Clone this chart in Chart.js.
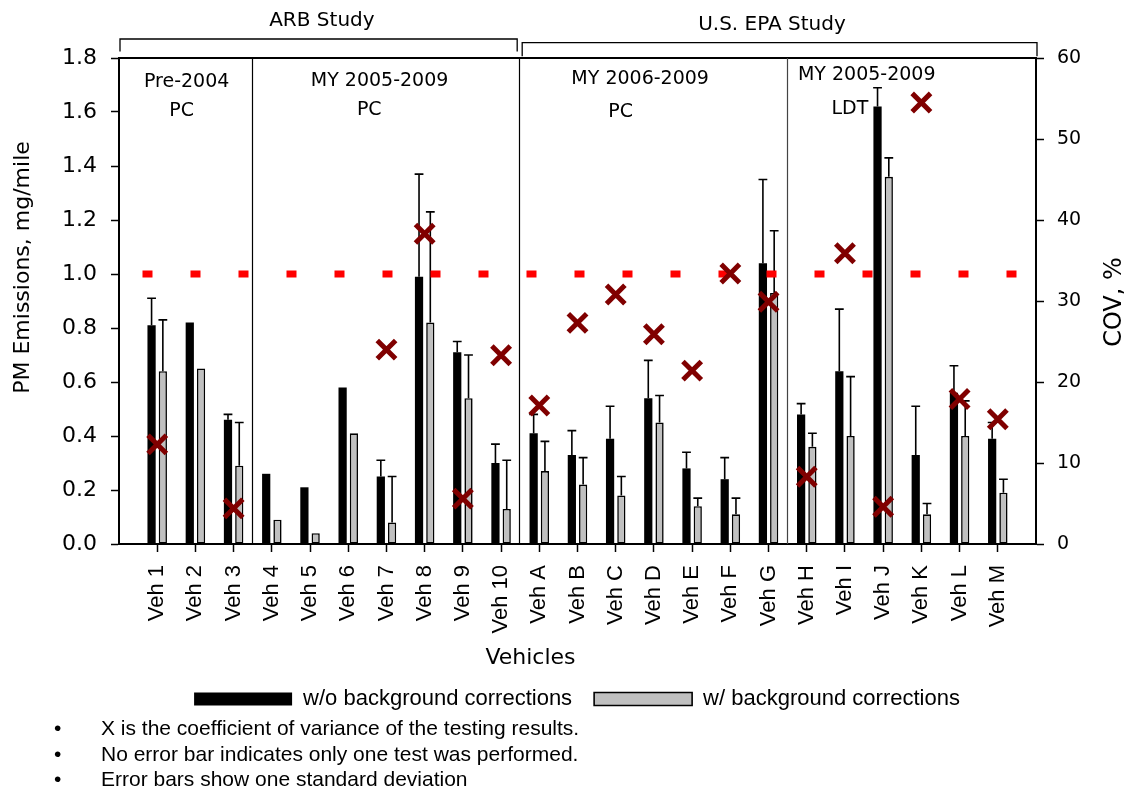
<!DOCTYPE html>
<html>
<head>
<meta charset="utf-8">
<script src="https://cdn.jsdelivr.net/npm/chart.js@4.4.1/dist/chart.umd.min.js"></script>
<style>
  html, body { margin: 0; padding: 0; background: #fff; }
  canvas { display: block; }
</style>
</head>
<body>
<canvas id="pmChart" width="1129" height="791"></canvas>
<script>
// ---- data ----
const vehicles = ['Veh 1', 'Veh 2', 'Veh 3', 'Veh 4', 'Veh 5', 'Veh 6', 'Veh 7', 'Veh 8', 'Veh 9', 'Veh 10',
                  'Veh A', 'Veh B', 'Veh C', 'Veh D', 'Veh E', 'Veh F', 'Veh G', 'Veh H', 'Veh I', 'Veh J',
                  'Veh K', 'Veh L', 'Veh M'];

// PM emissions (mg/mile) without background corrections, and one standard deviation
const pmWithout = [0.81, 0.82, 0.46, 0.26, 0.21, 0.58, 0.25, 0.99, 0.71, 0.30,
                   0.41, 0.33, 0.39, 0.54, 0.28, 0.24, 1.04, 0.48, 0.64, 1.62, 0.33, 0.56, 0.39];
const sdWithout = [0.10, null, 0.02, null, null, null, 0.06, 0.38, 0.04, 0.07,
                   0.07, 0.09, 0.12, 0.14, 0.06, 0.08, 0.31, 0.04, 0.23, 0.07, 0.18, 0.10, 0.06];

// PM emissions (mg/mile) with background corrections, and one standard deviation
const pmWith = [0.64, 0.65, 0.29, 0.09, 0.04, 0.41, 0.08, 0.82, 0.54, 0.13,
                0.27, 0.22, 0.18, 0.45, 0.14, 0.11, 0.93, 0.36, 0.40, 1.36, 0.11, 0.40, 0.19];
const sdWith = [0.19, null, 0.16, null, null, null, 0.17, 0.41, 0.16, 0.18,
                0.11, 0.10, 0.07, 0.10, 0.03, 0.06, 0.23, 0.05, 0.22, 0.07, 0.04, 0.13, 0.05];

// coefficient of variance of the repeated tests, %
const covPercent = [12.3, null, 4.4, null, null, null, 24.0, 38.3, 5.6, 23.3,
                    17.1, 27.3, 30.8, 25.9, 21.4, 33.4, 29.9, 8.3, 35.9, 4.6, 54.5, 17.9, 15.4];

// 1 mg/mile reference level
const pmReference = 1.0;

// vehicle groups: boundaries between groups and their titles
const groupBreaks = [2.5, 9.5, 16.5];
const groupTitles = [['Pre-2004', 'PC'], ['MY 2005-2009', 'PC'], ['MY 2006-2009', 'PC'], ['MY 2005-2009', 'LDT']];
const studies = [
  { name: 'ARB Study', from: -1, to: 9.5 },
  { name: 'U.S. EPA Study', from: 9.5, to: 23 }
];

const legendLabels = ['w/o background corrections', 'w/ background corrections'];
const notes = [
  'X is the coefficient of variance of the testing results.',
  'No error bar indicates only one test was performed.',
  'Error bars show one standard deviation'
];

// ---- layout / style ----
const SANS = "'DejaVu Sans', sans-serif";
const ARIAL = "'Liberation Sans', Arial, sans-serif";
const CHART_LEFT = 119, CHART_RIGHT = 1036, CHART_TOP = 58;
const PAD_LEFT = 25;

// text placement of the group titles: [category position, y pixel]
const groupTitleSpots = [
  [[0.77, 82.5], [0.64, 111.5]],
  [[5.82, 81.5], [5.55, 109.7]],
  [[12.64, 78.8], [12.13, 112]],
  [[18.57, 75.5], [18.13, 108.8]]
];
// study brackets: line y, drop of the end ticks, end insets (px), label centre (category) and y
const studyBrackets = [
  { y: 39, drop: 12.5, inset: [1, -3], labelX: 4.31, labelY: 21 },
  { y: 42.7, drop: 13.5, inset: [2, 1], labelX: 16.09, labelY: 25 }
];
const refLineSpan = [-0.385, 23.1];

const xy = (vals) => vals.map((v, i) => ({ x: i, y: v }));

// one-sided error bars on top of each bar
const errorBars = {
  id: 'errorBars',
  afterDatasetDraw(chart, args) {
    if (args.index !== 0) return; // dataset 0 is the last bar set painted
    const { ctx } = chart;
    const yScale = chart.scales.y;
    ctx.save();
    ctx.strokeStyle = '#000';
    ctx.lineWidth = 1.6;
    [[0, pmWithout, sdWithout], [1, pmWith, sdWith]].forEach(([d, vals, sds]) => {
      chart.getDatasetMeta(d).data.forEach((bar, i) => {
        if (sds[i] == null) return;
        const top = yScale.getPixelForValue(vals[i] + sds[i]);
        ctx.beginPath();
        ctx.moveTo(bar.x, bar.y);
        ctx.lineTo(bar.x, top);
        ctx.moveTo(bar.x - 4.4, top);
        ctx.lineTo(bar.x + 4.4, top);
        ctx.stroke();
      });
    });
    ctx.restore();
  }
};

// frame, group separators, study brackets, titles and footnotes
const decorations = {
  id: 'decorations',
  afterDraw(chart) {
    const { ctx, chartArea: a } = chart;
    const x = chart.scales.x;
    const seg = (x1, y1, x2, y2) => { ctx.beginPath(); ctx.moveTo(x1, y1); ctx.lineTo(x2, y2); ctx.stroke(); };
    ctx.save();
    ctx.strokeStyle = '#000';
    ctx.fillStyle = '#000';

    // top edge of the plot frame
    ctx.lineWidth = 2;
    seg(a.left - 1, a.top, a.right + 1, a.top);

    // separators between vehicle groups
    ctx.lineWidth = 1.2;
    groupBreaks.forEach((b, k) => {
      ctx.strokeStyle = k === 2 ? '#444' : '#000';
      const px = Math.round(x.getPixelForValue(b)) - 0.5;
      seg(px, a.top, px, a.bottom);
    });
    ctx.strokeStyle = '#000';

    // study brackets
    ctx.lineWidth = 1.3;
    ctx.textAlign = 'center';
    ctx.textBaseline = 'middle';
    ctx.font = '20px ' + SANS;
    studies.forEach((s, k) => {
      const br = studyBrackets[k];
      const x1 = x.getPixelForValue(s.from) + br.inset[0];
      const x2 = x.getPixelForValue(s.to) + br.inset[1];
      ctx.beginPath();
      ctx.moveTo(x1, br.y + br.drop);
      ctx.lineTo(x1, br.y);
      ctx.lineTo(x2, br.y);
      ctx.lineTo(x2, br.y + br.drop);
      ctx.stroke();
      ctx.fillText(s.name, x.getPixelForValue(br.labelX), br.labelY);
    });

    // group titles
    ctx.font = '19px ' + SANS;
    groupTitles.forEach((lines, g) => {
      lines.forEach((t, j) => {
        const [cx, cy] = groupTitleSpots[g][j];
        ctx.fillText(t, x.getPixelForValue(cx), cy);
      });
    });

    // axis titles
    ctx.font = '22px ' + SANS;
    ctx.save();
    ctx.translate(23, 267.5);
    ctx.rotate(-Math.PI / 2);
    ctx.fillText('PM Emissions, mg/mile', 0, 0);
    ctx.restore();
    ctx.font = '24px ' + SANS;
    ctx.save();
    ctx.translate(1115, 302);
    ctx.rotate(-Math.PI / 2);
    ctx.fillText('COV, %', 0, 0);
    ctx.restore();
    ctx.font = '22px ' + SANS;
    ctx.fillText('Vehicles', 530.5, 658);

    // footnotes
    ctx.font = '21px ' + ARIAL;
    ctx.textAlign = 'left';
    const noteY = [729, 755, 780];
    notes.forEach((t, i) => {
      ctx.fillText('\u2022', 54, noteY[i]);
      ctx.fillText(t, 101, noteY[i]);
    });
    ctx.restore();
  }
};

new Chart(document.getElementById('pmChart'), {
  type: 'bar',
  data: {
    datasets: [
      {
        label: legendLabels[0],
        data: xy(pmWithout),
        backgroundColor: '#000',
        borderColor: '#000',
        borderWidth: 0,
        order: 3
      },
      {
        label: legendLabels[1],
        data: xy(pmWith),
        backgroundColor: '#c0c0c0',
        borderColor: '#000',
        borderWidth: 1.6,
        borderSkipped: false,
        order: 3
      },
      {
        type: 'line',
        label: '1 mg/mile',
        data: refLineSpan.map(v => ({ x: v, y: pmReference })),
        borderColor: '#ff0000',
        borderWidth: 7,
        borderDash: [10, 38],
        borderCapStyle: 'butt',
        pointRadius: 0,
        clip: false,
        yAxisID: 'y',
        order: 2
      },
      {
        type: 'line',
        label: 'COV',
        data: xy(covPercent),
        showLine: false,
        pointStyle: 'crossRot',
        pointRadius: 13,
        pointBorderWidth: 5,
        pointBorderColor: '#800000',
        pointBackgroundColor: '#800000',
        borderColor: '#800000',
        yAxisID: 'yCov',
        clip: false,
        order: 1
      }
    ]
  },
  options: {
    responsive: false,
    animation: false,
    events: [],
    layout: { padding: { left: PAD_LEFT, right: 0, top: CHART_TOP, bottom: 71 } },
    datasets: { bar: { categoryPercentage: 0.59, barPercentage: 0.73, grouped: true } },
    scales: {
      x: {
        type: 'linear',
        min: -1,
        max: 23,
        offset: false,
        afterFit: (s) => { s.height = 122; s.paddingLeft = 0; s.paddingRight = 0; },
        grid: {
          offset: false,
          drawOnChartArea: false,
          drawTicks: true,
          tickLength: 8,
          tickWidth: 1.5,
          tickColor: (c) => (c.tick && vehicles[c.tick.value] !== undefined) ? '#000' : 'rgba(0,0,0,0)'
        },
        border: { display: true, color: '#000', width: 2 },
        ticks: {
          stepSize: 1,
          maxTicksLimit: 40,
          autoSkip: false,
          minRotation: 90,
          maxRotation: 90,
          padding: 13,
          color: '#000',
          font: { family: ARIAL, size: 22 },
          callback: (v) => vehicles[v] !== undefined ? vehicles[v] : ''
        }
      },
      y: {
        position: 'left',
        min: 0,
        max: 1.8,
        afterFit: (s) => { s.width = CHART_LEFT - PAD_LEFT; s.paddingTop = 0; s.paddingBottom = 0; },
        grid: { drawOnChartArea: false, tickLength: 8, tickWidth: 1.5, tickColor: '#000' },
        border: { display: true, color: '#000', width: 2 },
        ticks: {
          stepSize: 0.2,
          padding: 14,
          color: '#000',
          font: { family: SANS, size: 22 },
          callback: (v) => Number(v).toFixed(1)
        }
      },
      yCov: {
        position: 'right',
        min: 0,
        max: 60,
        afterFit: (s) => { s.width = 1129 - CHART_RIGHT; s.paddingTop = 0; s.paddingBottom = 0; },
        grid: { drawOnChartArea: false, tickLength: 8, tickWidth: 1.5, tickColor: '#000' },
        border: { display: true, color: '#000', width: 2 },
        ticks: {
          stepSize: 10,
          padding: 13,
          color: '#000',
          font: { family: SANS, size: 19 }
        }
      }
    },
    plugins: {
      tooltip: { enabled: false },
      title: { display: false },
      legend: {
        position: 'bottom',
        labels: {
          filter: (item) => item.datasetIndex < 2,
          color: '#000',
          font: { family: ARIAL, size: 22 },
          boxWidth: 98,
          boxHeight: 13,
          padding: 22
        }
      }
    }
  },
  plugins: [errorBars, decorations]
});
</script>
</body>
</html>
